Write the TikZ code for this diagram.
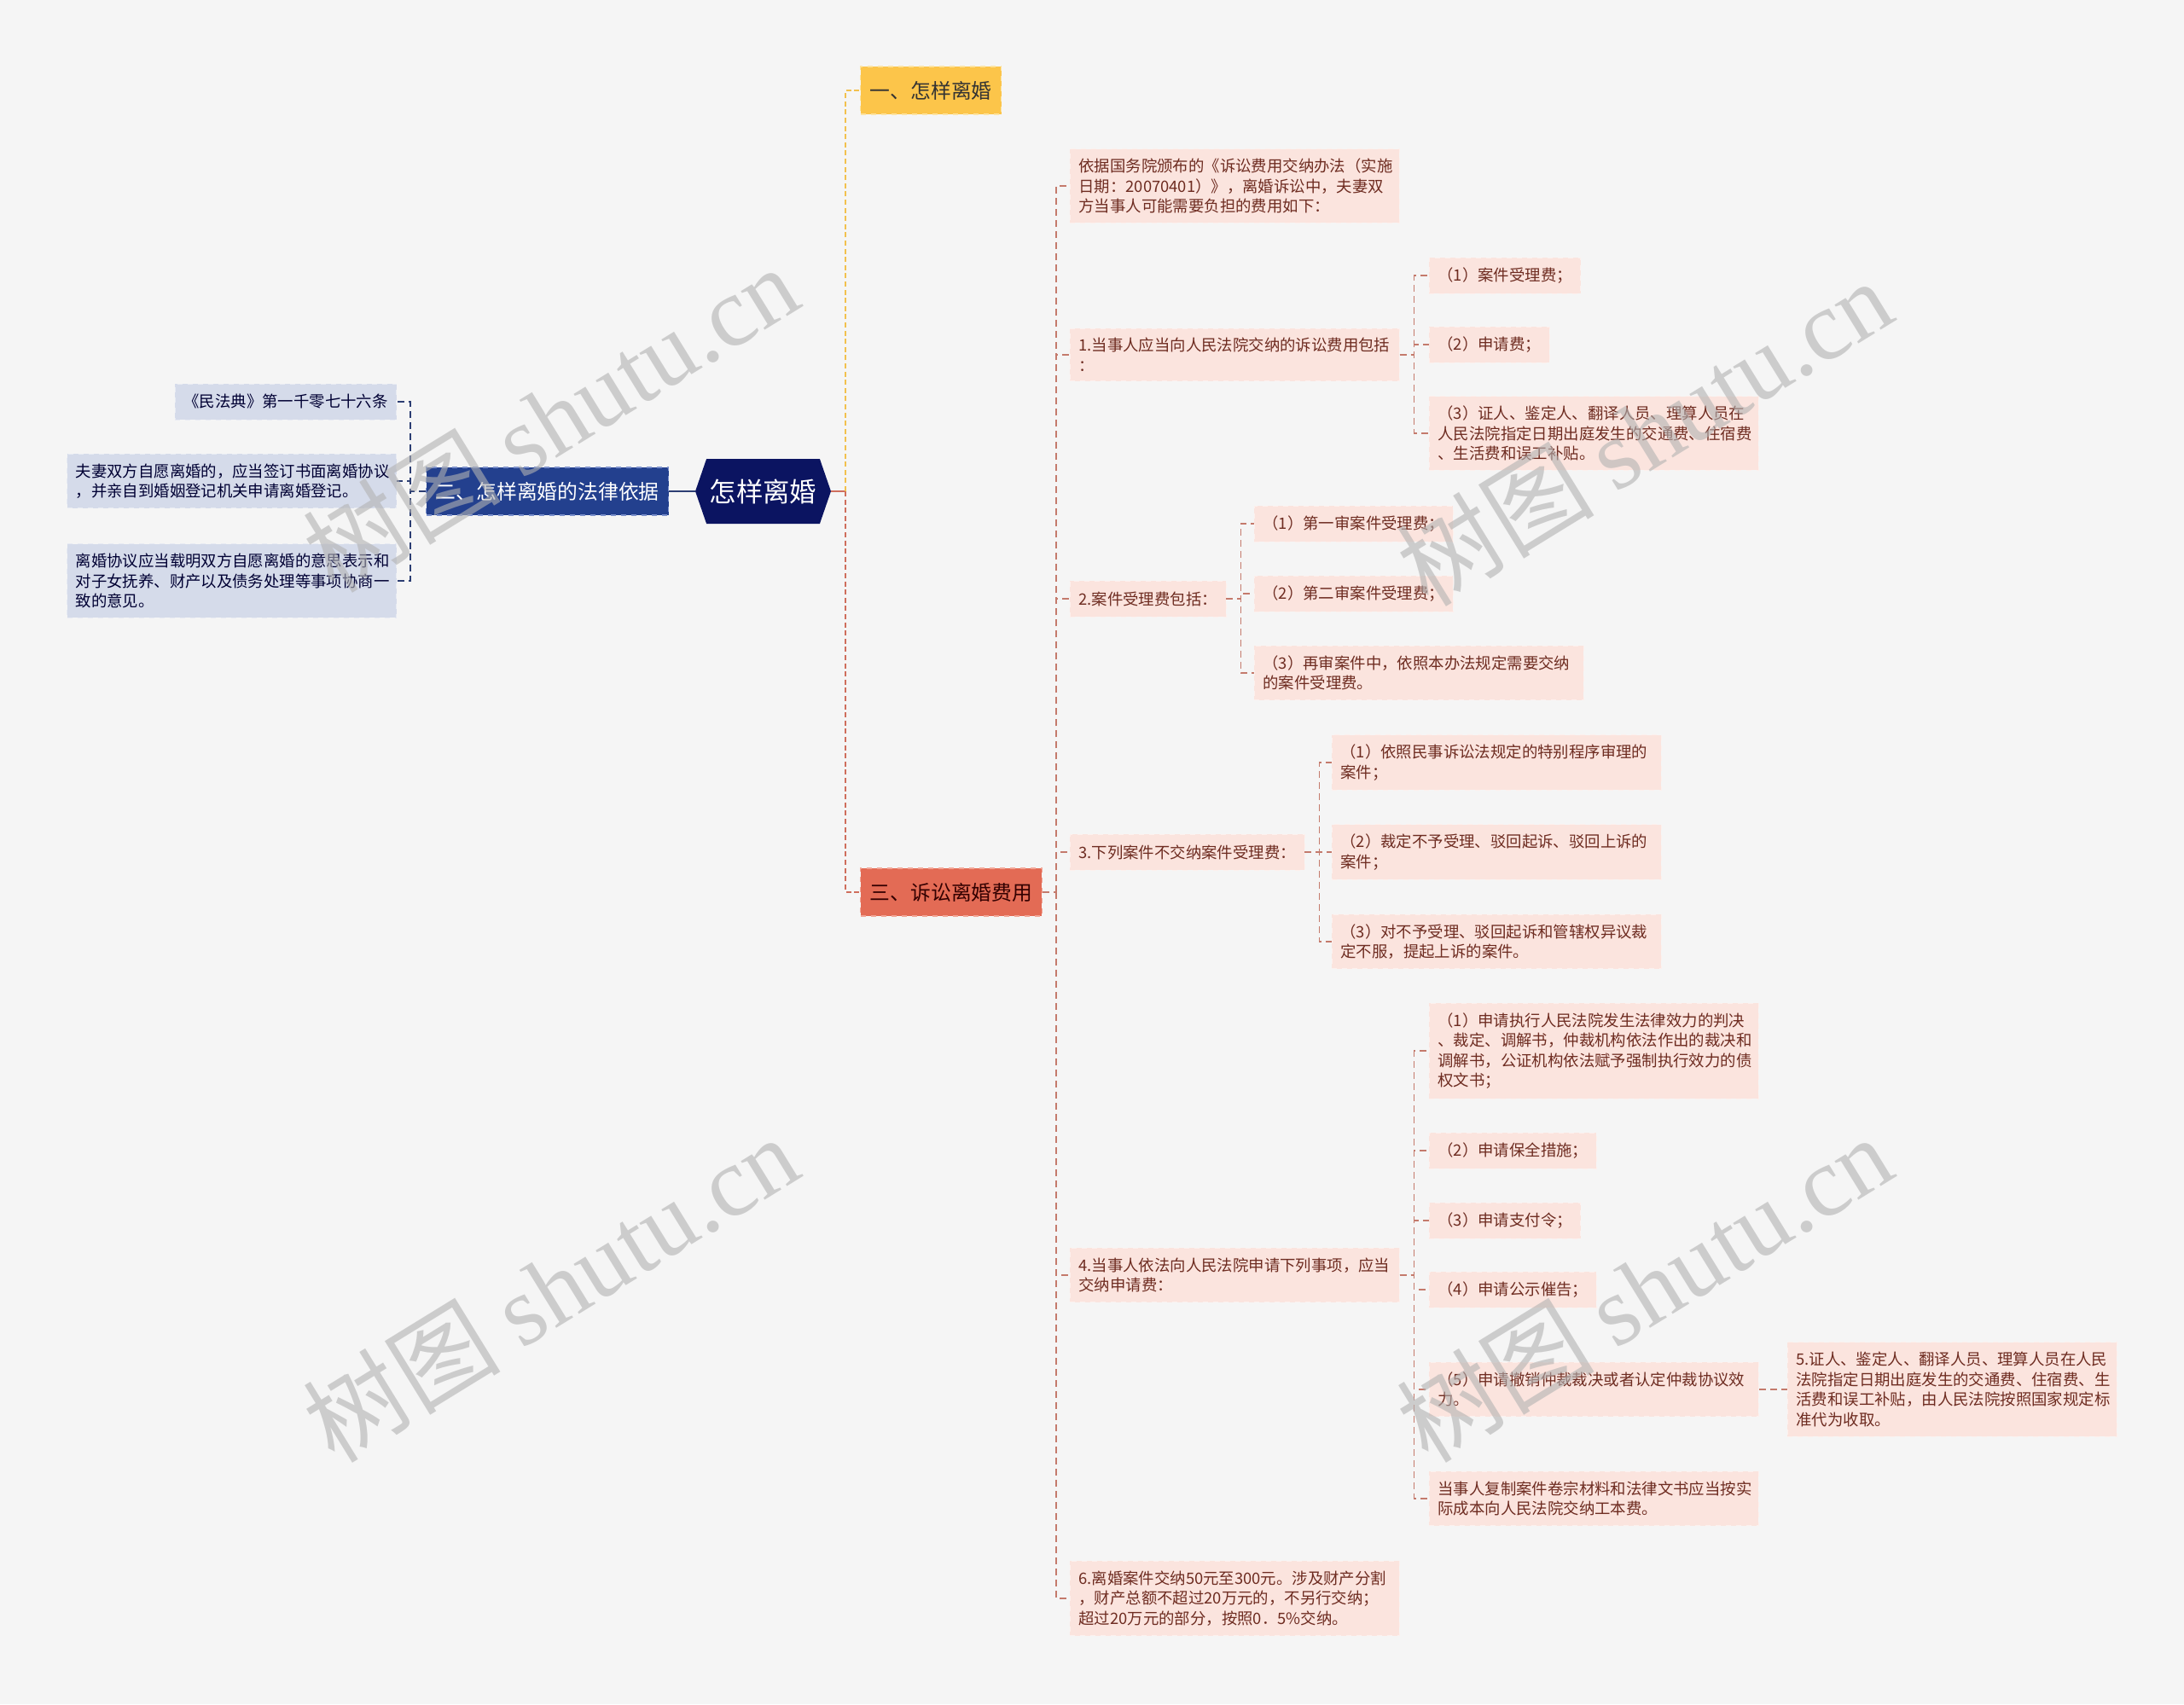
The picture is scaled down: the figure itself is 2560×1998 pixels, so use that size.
\documentclass[tikz,border=0pt]{standalone}
\usepackage{fontspec}
\setmainfont{Noto Sans CJK SC}
\newfontfamily\wmfont{Liberation Serif}
\usepackage{tikz}
\usetikzlibrary{shapes.symbols}
\usepackage{xcolor}
\definecolor{bgcol}{HTML}{F5F5F5}
\definecolor{rootcol}{HTML}{0B1461}
\definecolor{twocol}{HTML}{23408E}
\definecolor{twoedge}{HTML}{7A8FCB}
\definecolor{onecol}{HTML}{FCC54A}
\definecolor{oneedge}{HTML}{FDE3A0}
\definecolor{threecol}{HTML}{E36B55}
\definecolor{threeedge}{HTML}{F2A697}
\definecolor{bluecol}{HTML}{D5DBEA}
\definecolor{pinkcol}{HTML}{FBE4DE}
\definecolor{pinktext}{HTML}{6E2C21}
\definecolor{pinkline}{HTML}{C47A6C}
\definecolor{blueline}{HTML}{2C3E73}
\definecolor{yellline}{HTML}{F2C14E}
\definecolor{redline}{HTML}{CF6E5C}

\tikzset{
	root/.style={shape=signal, signal to=east and west, signal pointer angle=142, fill=rootcol, text=white, font=\fontsize{15.7}{18}\selectfont, minimum height=38pt, inner xsep=1.8pt},
	topic/.style={font=\fontsize{11.9}{14}\selectfont, dashed, line width=0.6pt, minimum height=28pt, inner xsep=5.6pt, anchor=west},
	leaf/.style={fill=pinkcol, draw=white!45!pinkcol, dashed, text=pinktext, font=\fontsize{9.2}{11.8}\selectfont, inner xsep=5pt, inner ysep=5.6pt, minimum height=21pt, align=left, anchor=west},
	bleaf/.style={leaf, fill=bluecol, draw=white!45!bluecol, text=black!80!blue, anchor=east},
	wide/.style={text width=183pt},
	narrow/.style={},
	pinklink/.style={draw=pinkline, line width=0.6pt, dash pattern=on 4pt off 2.5pt},
	bluelink/.style={draw=blueline, line width=0.6pt, dash pattern=on 4pt off 2.5pt},
	yellink/.style={draw=yellline, line width=1pt, dash pattern=on 3pt off 1.8pt},
	redlink/.style={draw=redline, line width=1pt, dash pattern=on 3pt off 1.8pt},
	wmark/.style={text=black!30, opacity=0.6, rotate=31.6, font=\fontsize{58}{60}\selectfont}
}

\begin{document}
\begin{tikzpicture}[x=0.5pt, y=-0.5pt]
	\fill[bgcol] (0,0) rectangle (2560,1998);
	\useasboundingbox (0,0) rectangle (2560,1998);

	\node [root] (root) at (894.5,576) {怎样离婚};
	\node [topic, fill=twocol, draw=twoedge, text=white] (two) at (499,576) {二、怎样离婚的法律依据};
	\node [topic, fill=onecol, draw=oneedge, text=black!80] (one) at (1008,106) {一、怎样离婚};
	\node [topic, fill=threecol, draw=threeedge, text=black!80!red] (three) at (1008,1046) {三、诉讼离婚费用};

	\draw [blueline, line width=1.2pt] (two.east) -- (root.west);
	\draw [redline, line width=1.2pt] (root.east) -- ++(17,0) coordinate (rj);
	\draw [yellink] (rj) |- (one.west);
	\draw [redlink] (rj) |- (three.west);

	\foreach \n/\y/\s/\txt in {
		l1/471/narrow/{《民法典》第一千零七十六条},
		l2/564/wide/{夫妻双方自愿离婚的，应当签订书面离婚协议\\，并亲自到婚姻登记机关申请离婚登记。},
		l3/681/wide/{离婚协议应当载明双方自愿离婚的意思表示和\\对子女抚养、财产以及债务处理等事项协商一\\致的意见。}
	}
	{
		\node [bleaf, \s] (\n) at (465,\y) {\txt};
		\draw [bluelink] (two.west) -- ++(-18,0) |- (\n.east);
	}

	\draw [pinklink] (three.east) -- ++(16,0) coordinate (tj);
	\foreach \n/\y/\s/\txt in {
		a0/218/wide/{依据国务院颁布的《诉讼费用交纳办法（实施\\日期：20070401）》，离婚诉讼中，夫妻双\\方当事人可能需要负担的费用如下：},
		a1/416/wide/{1.当事人应当向人民法院交纳的诉讼费用包括\\：},
		a2/702/narrow/{2.案件受理费包括：},
		a3/999/narrow/{3.下列案件不交纳案件受理费：},
		a4/1495/wide/{4.当事人依法向人民法院申请下列事项，应当\\交纳申请费：},
		a6/1874/wide/{6.离婚案件交纳50元至300元。涉及财产分割\\，财产总额不超过20万元的，不另行交纳；\\超过20万元的部分，按照0．5\%交纳。}
	}
	{
		\node [leaf, \s] (\n) at (1254,\y) {\txt};
		\draw [pinklink] (tj) |- (\n.west);
	}

	\foreach \p/\n/\x/\y/\s/\txt in {
		a1/b11/1675/323/narrow/{（1）案件受理费；},
		a1/b12/1675/404/narrow/{（2）申请费；},
		a1/b13/1675/508/wide/{（3）证人、鉴定人、翻译人员、理算人员在\\人民法院指定日期出庭发生的交通费、住宿费\\、生活费和误工补贴。},
		a2/b21/1470/614/narrow/{（1）第一审案件受理费；},
		a2/b22/1470/696/narrow/{（2）第二审案件受理费；},
		a2/b23/1470/789/wide/{（3）再审案件中，依照本办法规定需要交纳\\的案件受理费。},
		a3/b31/1561/894/wide/{（1）依照民事诉讼法规定的特别程序审理的\\案件；},
		a3/b32/1561/999/wide/{（2）裁定不予受理、驳回起诉、驳回上诉的\\案件；},
		a3/b33/1561/1104/wide/{（3）对不予受理、驳回起诉和管辖权异议裁\\定不服，提起上诉的案件。},
		a4/b41/1675/1232/wide/{（1）申请执行人民法院发生法律效力的判决\\、裁定、调解书，仲裁机构依法作出的裁决和\\调解书，公证机构依法赋予强制执行效力的债\\权文书；},
		a4/b42/1675/1349/narrow/{（2）申请保全措施；},
		a4/b43/1675/1431/narrow/{（3）申请支付令；},
		a4/b44/1675/1512/narrow/{（4）申请公示催告；},
		a4/b45/1675/1629/wide/{（5）申请撤销仲裁裁决或者认定仲裁协议效\\力。},
		a4/b46/1675/1757/wide/{当事人复制案件卷宗材料和法律文书应当按实\\际成本向人民法院交纳工本费。}
	}
	{
		\node [leaf, \s] (\n) at (\x,\y) {\txt};
		\draw [pinklink] (\p.east) -- ++(17,0) |- (\n.west);
	}

	\node [leaf, wide] (c1) at (2095,1629) {5.证人、鉴定人、翻译人员、理算人员在人民\\法院指定日期出庭发生的交通费、住宿费、生\\活费和误工补贴，由人民法院按照国家规定标\\准代为收取。};
	\draw [pinklink] (b45.east) -- (c1.west);

	\foreach \wx/\wy/\wn in {645/490/w1, 1927/506/w2, 645/1510/w3, 1927/1510/w4}
		\node [wmark] (\wn) at (\wx,\wy) {树图 {\wmfont shutu.cn}};
\end{tikzpicture}
\end{document}
